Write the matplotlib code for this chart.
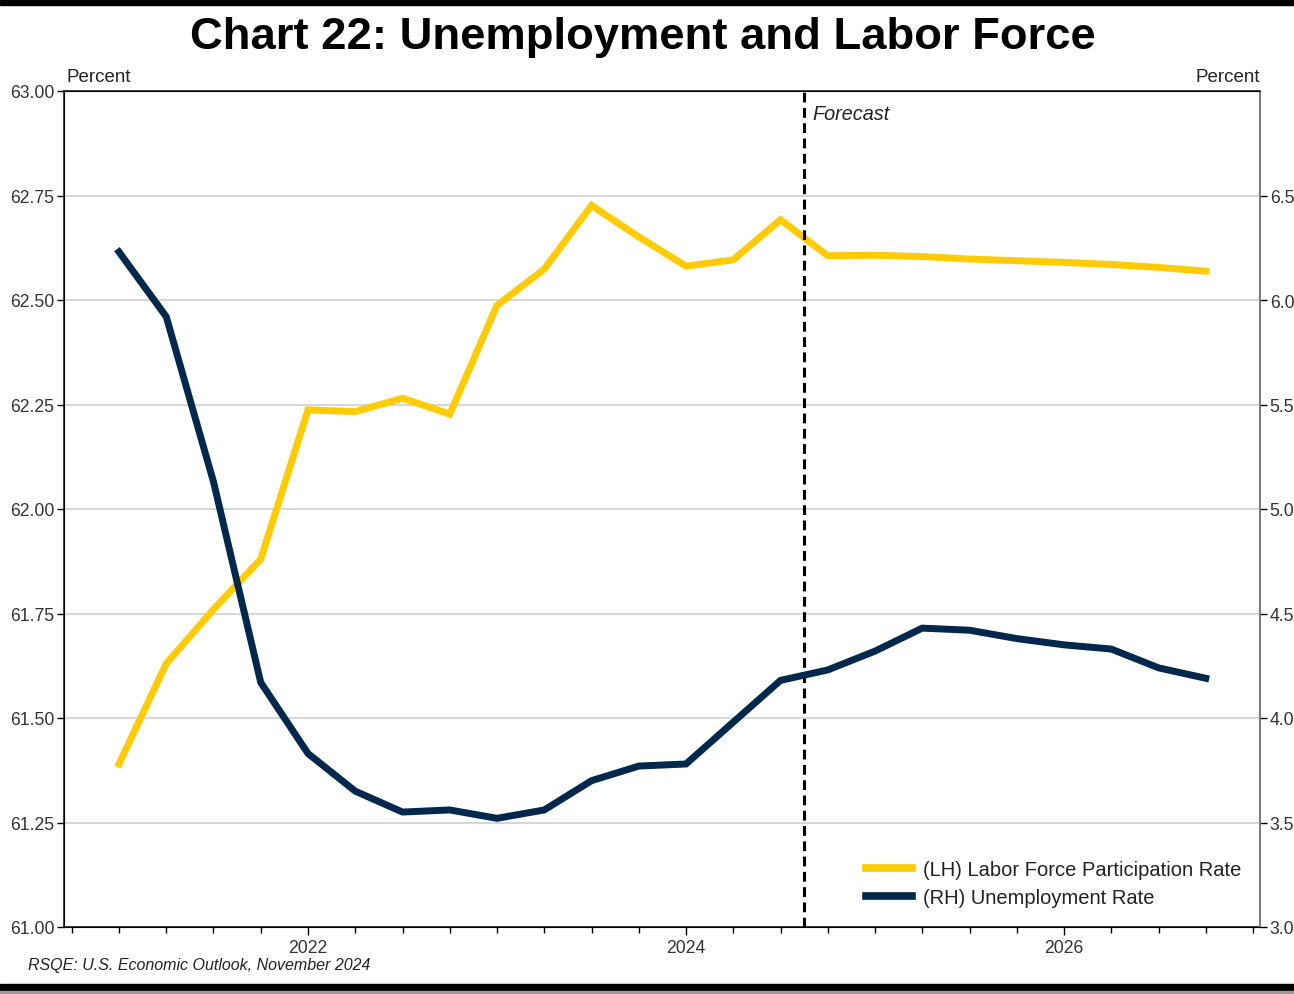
import matplotlib
matplotlib.use("Agg")
import matplotlib.pyplot as plt
from matplotlib.lines import Line2D
from matplotlib.patches import Rectangle
import numpy as np

# ---- data (quarterly, 2021Q1 .. 2026Q4) ----
quarters = [2021.0 + 0.25 * i for i in range(24)]
lfpr = [61.39, 61.63, 61.76, 61.88, 62.237, 62.233, 62.265, 62.227,
        62.487, 62.574, 62.726, 62.651, 62.581, 62.596, 62.692, 62.606,
        62.607, 62.604, 62.598, 62.594, 62.590, 62.585, 62.578, 62.569]
unemp = [6.23, 5.92, 5.13, 4.17, 3.83, 3.65, 3.55, 3.56,
         3.52, 3.56, 3.70, 3.77, 3.78, 3.98, 4.18, 4.23,
         4.32, 4.43, 4.42, 4.38, 4.35, 4.33, 4.24, 4.19]
forecast_start = 2024.625
left_ticks = [61.00, 61.25, 61.50, 61.75, 62.00, 62.25, 62.50, 62.75, 63.00]
right_ticks = [3.0, 3.5, 4.0, 4.5, 5.0, 5.5, 6.0, 6.5]
year_ticks = [2022, 2024, 2026]

YELLOW = "#FFCB05"
NAVY = "#00274C"
FONT = "Liberation Sans"
plt.rcParams['font.family'] = [FONT, 'DejaVu Sans']

W, H = 1294, 995
fig = plt.figure(figsize=(W / 100, H / 100), dpi=100)
ax = fig.add_axes([64 / W, 1 - 928 / H, (1260 - 64) / W, (928 - 92) / H])
ax2 = ax.twinx()

ax.set_xlim(2020.709, 2027.037)
ax.set_ylim(61.0, 63.0)
ax2.set_ylim(3.0, 7.0)

TICK_COLOR = '#333333'
ax.set_yticks(left_ticks)
ax.set_yticklabels([f"{v:.2f}" for v in left_ticks], fontsize=12.7, color=TICK_COLOR)
ax2.set_yticks(right_ticks)
ax2.set_yticklabels([f"{v:.1f}" for v in right_ticks], fontsize=12.7, color=TICK_COLOR)

ax.set_xticks(year_ticks)
ax.set_xticklabels([str(y) for y in year_ticks], fontsize=12.7, color=TICK_COLOR)
minor = np.arange(2020.75, 2027.01, 0.25)
ax.set_xticks([m for m in minor if m not in year_ticks], minor=True)
ax.tick_params(axis='x', which='major', length=6, width=1, direction='out', pad=3)
ax.tick_params(axis='x', which='minor', length=4, width=1, direction='out')
ax.tick_params(axis='y', length=5, width=1, pad=2)
ax2.tick_params(axis='y', length=5, width=1, pad=2)

ax.grid(axis='y', color='#d6d6d6', linewidth=1.4)
ax.set_axisbelow(True)
for sp in ax.spines.values():
    sp.set_linewidth(1.2)
    sp.set_color('#222222')
ax2.spines['right'].set_color('#888888')
ax2.spines['right'].set_linewidth(1.2)

ax.plot(quarters, lfpr, color=YELLOW, linewidth=5.0, solid_joinstyle='miter', zorder=3)
ax2.plot(quarters, unemp, color=NAVY, linewidth=5.0, solid_joinstyle='miter', zorder=3)

ax.axvline(forecast_start, color='black', linestyle=(0, (3.2, 1.8)), linewidth=2.2, zorder=4)
ax.text(forecast_start + 0.045, 62.945, "Forecast", fontsize=14.3, style='italic',
        ha='left', va='center', color='#222222')

handles = [Line2D([], [], color=YELLOW, linewidth=5.5),
           Line2D([], [], color=NAVY, linewidth=5.5)]
fig.legend(handles, ["(LH) Labor Force Participation Rate", "(RH) Unemployment Rate"],
           loc='upper left', bbox_to_anchor=(866 / W, 1 - 861 / H), frameon=False,
           fontsize=14.5, handlelength=2.3, handletextpad=0.55, labelspacing=0.45,
           borderaxespad=0, borderpad=0, labelcolor='#222222')

fig.text(643 / W, 1 - 37 / H, "Chart 22: Unemployment and Labor Force",
         fontsize=32.7, fontweight='bold', ha='center', va='center')
fig.text(66 / W, 1 - 77 / H, "Percent", fontsize=13.5, ha='left', va='center', color='#222222')
fig.text(1260 / W, 1 - 77 / H, "Percent", fontsize=13.5, ha='right', va='center', color='#222222')
fig.text(28 / W, 1 - 966 / H, "RSQE: U.S. Economic Outlook, November 2024",
         fontsize=11.5, style='italic', ha='left', va='center', color='#222222')

# page borders
fig.patches.append(Rectangle((0, 1 - 6 / H), 1, 6 / H, transform=fig.transFigure,
                             color='black', zorder=0))
fig.patches.append(Rectangle((0, 1 - 992 / H), 1, 7 / H, transform=fig.transFigure,
                             color='black', zorder=0))
fig.patches.append(Rectangle((0, 0), 1, 3 / H, transform=fig.transFigure,
                             color='#9a9a9a', zorder=0))

fig.savefig("out.png", dpi=100)
